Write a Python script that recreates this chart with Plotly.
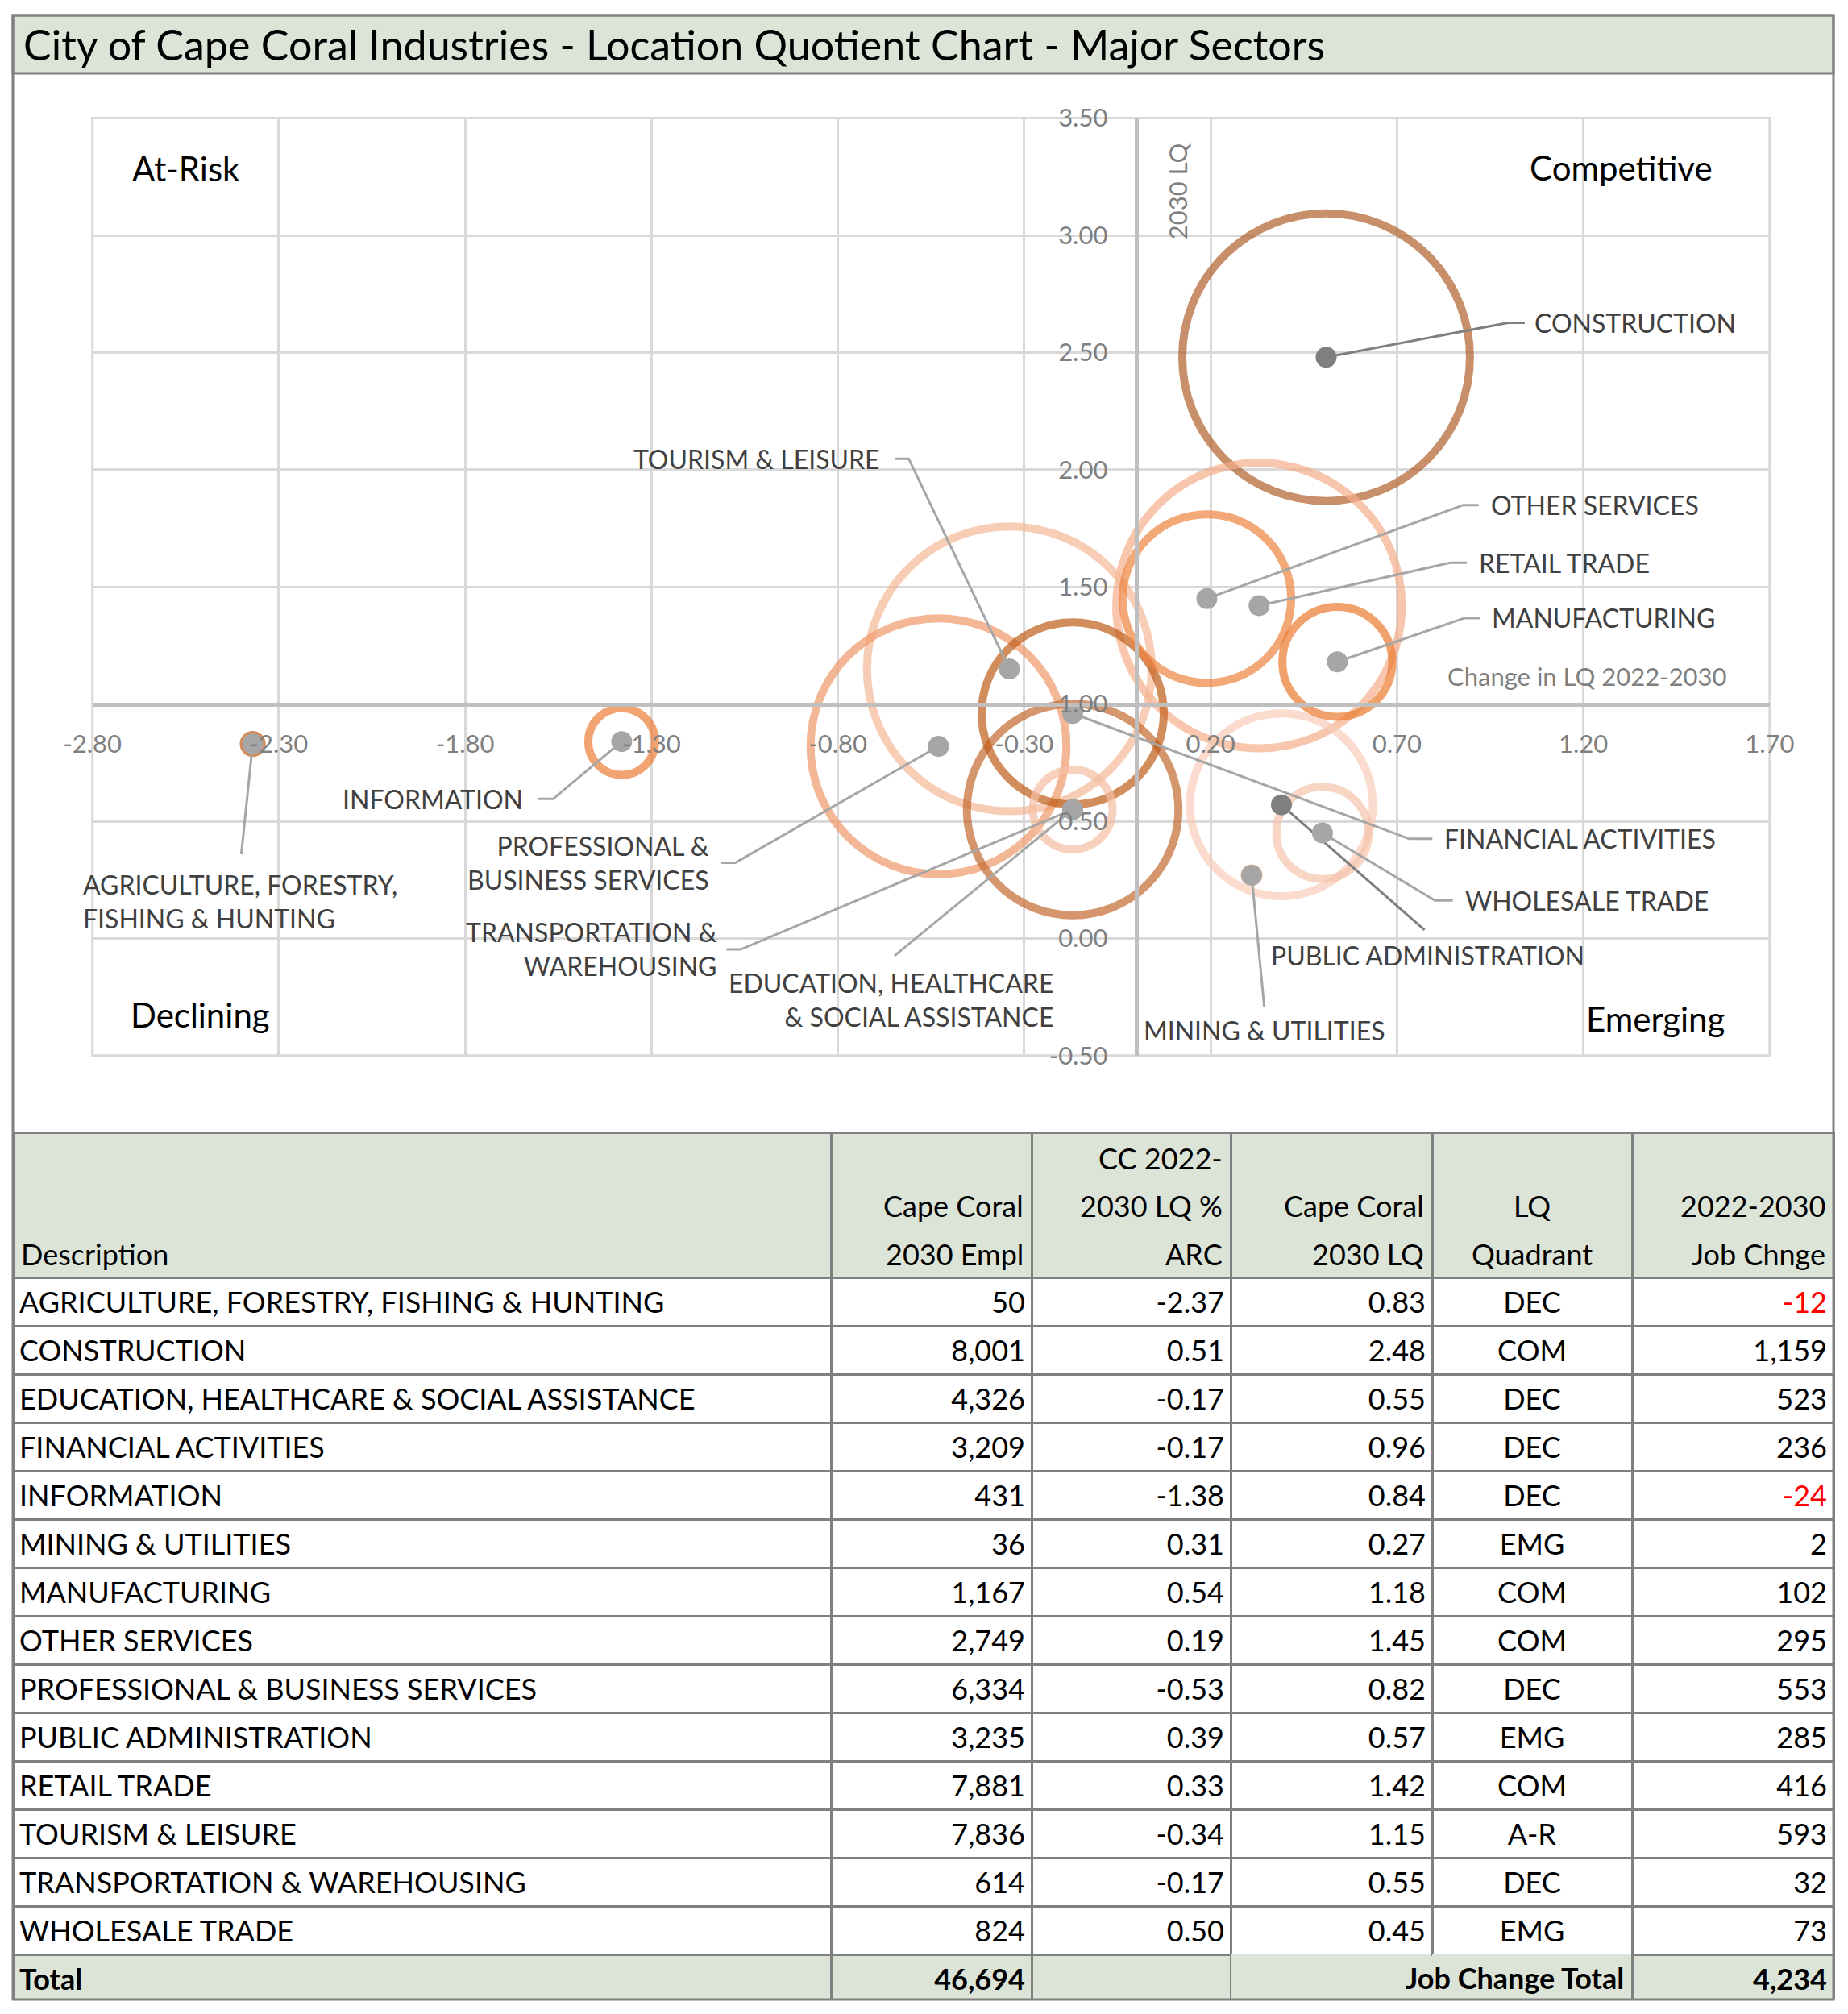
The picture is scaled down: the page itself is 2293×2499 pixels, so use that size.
import plotly.graph_objects as go
import numpy as np

W, H = 2293, 2499
BODY = 8                      # default page margin of the html body
FW, FH = W - BODY, H - BODY   # figure size so it fits the window

# ---------------- data ----------------
sectors = [
    "AGRICULTURE, FORESTRY, FISHING & HUNTING",
    "CONSTRUCTION",
    "EDUCATION, HEALTHCARE & SOCIAL ASSISTANCE",
    "FINANCIAL ACTIVITIES",
    "INFORMATION",
    "MINING & UTILITIES",
    "MANUFACTURING",
    "OTHER SERVICES",
    "PROFESSIONAL & BUSINESS SERVICES",
    "PUBLIC ADMINISTRATION",
    "RETAIL TRADE",
    "TOURISM & LEISURE",
    "TRANSPORTATION & WAREHOUSING",
    "WHOLESALE TRADE",
]
empl_2030 = [50, 8001, 4326, 3209, 431, 36, 1167, 2749, 6334, 3235, 7881, 7836, 614, 824]
lq_change = [-2.37, 0.51, -0.17, -0.17, -1.38, 0.31, 0.54, 0.19, -0.53, 0.39, 0.33, -0.34, -0.17, 0.50]
lq_2030 = [0.83, 2.48, 0.55, 0.96, 0.84, 0.27, 1.18, 1.45, 0.82, 0.57, 1.42, 1.15, 0.55, 0.45]
quadrant = ["DEC", "COM", "DEC", "DEC", "DEC", "EMG", "COM", "COM", "DEC", "EMG", "COM", "A-R", "DEC", "EMG"]
job_change = [-12, 1159, 523, 236, -24, 2, 102, 295, 553, 285, 416, 593, 32, 73]
total_empl = 46694
total_job_change = 4234

table_header = [
    ["", "", "Description"],
    ["", "Cape Coral", "2030 Empl"],
    ["CC 2022-", "2030 LQ %", "ARC"],
    ["", "Cape Coral", "2030 LQ"],
    ["", "LQ", "Quadrant"],
    ["", "2022-2030", "Job Chnge"],
]

x_range = [-2.8, 1.7]
y_range = [-0.5, 3.5]
tick_step = 0.5
lq_baseline = 1.0

# ---------------- styles ----------------
FONT = "Lato"
ring_colors = ["#c55a11", "#b0622d", "#c46b30", "#c05d19", "#ec7e36", "#f4b183", "#ec7b2f",
               "#ee8440", "#f0996b", "#f8cdb8", "#f4ae89", "#f5b898", "#f6bea3", "#f6c4ac"]
ring_widths = [4, 10, 10, 10, 10, 3, 10, 10, 10, 10, 10, 10, 10, 10]
dot_colors = ["#a6a6a6", "#7f7f7f", "#a6a6a6", "#a6a6a6", "#a6a6a6", "#a6a6a6", "#a6a6a6",
              "#a6a6a6", "#a6a6a6", "#7f7f7f", "#a6a6a6", "#a6a6a6", "#a6a6a6", "#a6a6a6"]
SIZEREF = 0.1256

# label placement (data coordinates): text pos, anchor, leader path after the point, pixel shift
label_layout = [
    dict(text="AGRICULTURE, FORESTRY,<br>FISHING & HUNTING", x=-2.8, y=0.159, anchor="left",
         path=[(-2.4006, 0.359)], xshift=-14),
    dict(text="CONSTRUCTION", x=1.064, y=2.627, anchor="left", path=[(0.998, 2.627), (1.043, 2.627)]),
    dict(text="EDUCATION, HEALTHCARE<br>& SOCIAL ASSISTANCE", x=-0.217, y=-0.26, anchor="right", path=[(-0.648, -0.074)]),
    dict(text="FINANCIAL ACTIVITIES", x=0.823, y=0.425, anchor="left", path=[(0.733, 0.425), (0.795, 0.425)]),
    dict(text="INFORMATION", x=-1.64, y=0.595, anchor="right", path=[(-1.564, 0.595), (-1.605, 0.595)]),
    dict(text="MINING & UTILITIES", x=0.017, y=-0.392, anchor="left", path=[(0.344, -0.293)]),
    dict(text="MANUFACTURING", x=0.95, y=1.367, anchor="left", path=[(0.881, 1.367), (0.922, 1.367)]),
    dict(text="OTHER SERVICES", x=0.947, y=1.849, anchor="left", path=[(0.878, 1.849), (0.919, 1.849)]),
    dict(text="PROFESSIONAL &<br>BUSINESS SERVICES", x=-1.14, y=0.323, anchor="right", path=[(-1.075, 0.323), (-1.113, 0.323)]),
    dict(text="PUBLIC ADMINISTRATION", x=0.358, y=-0.074, anchor="left", path=[(0.774, 0.036)]),
    dict(text="RETAIL TRADE", x=0.916, y=1.603, anchor="left", path=[(0.843, 1.603), (0.888, 1.603)]),
    dict(text="TOURISM & LEISURE", x=-0.682, y=2.047, anchor="right", path=[(-0.61, 2.047), (-0.648, 2.047)]),
    dict(text="TRANSPORTATION &<br>WAREHOUSING", x=-1.12, y=-0.044, anchor="right", path=[(-1.061, -0.047), (-1.099, -0.047)]),
    dict(text="WHOLESALE TRADE", x=0.878, y=0.162, anchor="left", path=[(0.802, 0.162), (0.85, 0.162)]),
]

quadrant_labels = [("At-Risk", -2.549, 3.285), ("Competitive", 1.301, 3.29),
                   ("Declining", -2.511, -0.326), ("Emerging", 1.394, -0.342)]

# ---------------- layout geometry (window pixels -> paper) ----------------
def PX(px):
    return (px - BODY) / FW

def PY(py):
    return 1 - (py - BODY) / FH

xd = [PX(114.7), PX(2195.8)]
yd = [PY(1309.8), PY(146.6)]
x_axis_pos = yd[0] + (lq_baseline - y_range[0]) / (y_range[1] - y_range[0]) * (yd[1] - yd[0])
y_axis_pos = xd[0] + (0 - x_range[0]) / (x_range[1] - x_range[0]) * (xd[1] - xd[0])

x_tickvals = np.arange(x_range[0], x_range[1] + 1e-9, tick_step)
y_tickvals = np.arange(y_range[0], y_range[1] + 1e-9, tick_step)
x_ticktext = [f"{v:.2f}" for v in x_tickvals]
y_ticktext = [f"{v:.2f}".replace("-0.00", "0.00") for v in y_tickvals]

fig = go.Figure()

# bubbles (largest drawn first)
order = np.argsort(np.array(empl_2030))[::-1]
fig.add_trace(go.Scatter(
    x=np.array(lq_change)[order], y=np.array(lq_2030)[order], mode="markers",
    marker=dict(size=np.array(empl_2030)[order], sizemode="area", sizeref=SIZEREF,
                color="rgba(0,0,0,0)",
                line=dict(width=np.array(ring_widths)[order], color=np.array(ring_colors)[order])),
    hoverinfo="skip", showlegend=False, cliponaxis=False))

# leader lines
for col in ["#a6a6a6", "#7f7f7f"]:
    lx, ly = [], []
    for i, lab in enumerate(label_layout):
        if dot_colors[i] != col:
            continue
        lx.append(lq_change[i]); ly.append(lq_2030[i])
        for (px_, py_) in lab["path"]:
            lx.append(px_); ly.append(py_)
        lx.append(None); ly.append(None)
    fig.add_trace(go.Scatter(x=lx, y=ly, mode="lines", line=dict(color=col, width=3),
                             hoverinfo="skip", showlegend=False, cliponaxis=False))

# dots
fig.add_trace(go.Scatter(x=lq_change, y=lq_2030, mode="markers",
                         marker=dict(size=26, color=dot_colors, line=dict(width=0)),
                         hoverinfo="skip", showlegend=False, cliponaxis=False))

annotations = []
for lab in label_layout:
    annotations.append(dict(x=lab["x"], y=lab["y"], xref="x", yref="y", text=lab["text"],
                            xanchor=lab["anchor"], yanchor="middle", align=lab["anchor"],
                            xshift=lab.get("xshift", 0),
                            showarrow=False, font=dict(family=FONT, size=32, color="#404040")))
for t, qx, qy in quadrant_labels:
    annotations.append(dict(x=qx, y=qy, xref="x", yref="y", text=t, xanchor="center", yanchor="middle",
                            showarrow=False, font=dict(family=FONT, size=42, color="#000000")))
# axis titles
annotations.append(dict(x=0.11, y=3.19, xref="x", yref="y", text="2030 LQ", textangle=-90,
                        showarrow=False, xanchor="center", yanchor="middle",
                        font=dict(family=FONT, size=31, color="#7f7f7f")))
annotations.append(dict(x=1.59, y=1.12, xref="x", yref="y", text="Change in LQ 2022-2030",
                        showarrow=False, xanchor="right", yanchor="middle",
                        font=dict(family=FONT, size=31, color="#7f7f7f")))
# main title
annotations.append(dict(x=PX(27), y=PY(55), xref="paper", yref="paper",
                        text="City of Cape Coral Industries - Location Quotient Chart - Major Sectors",
                        showarrow=False, xanchor="left", yanchor="middle",
                        font=dict(family=FONT, size=52, color="#000000")))

# ---------------- table ----------------
col_widths = [1015, 249, 247, 250, 248, 250]
col_align = ["left", "right", "right", "right", "center", "right"]
tbl_x0, tbl_x1 = 16, 2275
tbl_top, tbl_bot = 1405, 2481
header_h = 180
row_h = 59.7
TFS = 36
CELL_PAD = 8
header_line_offsets = [32, 91, 150.5]


def sp(s):
    return f"<span>{s}</span>"


n = len(sectors)
col_desc = [sp(s) for s in sectors] + ["<b>Total</b>"]
col_empl = [sp(f"{v:,}") for v in empl_2030] + [f"<b>{total_empl:,}</b>"]
col_arc = [sp(f"{v:.2f}") for v in lq_change] + [sp("")]
col_lq = [sp(f"{v:.2f}") for v in lq_2030] + [sp("")]
col_quad = [sp(q) for q in quadrant] + [sp("")]
col_job = [sp(f"{v:,}") for v in job_change] + [f"<b>{total_job_change:,}</b>"]

SAGE = "#dce4d8"
GRID = "#808080"
NONE = "rgba(0,0,0,0)"
fill_col = ["#ffffff"] * n + [SAGE]
job_font = ["#ff0000" if v < 0 else "#000000" for v in job_change] + ["#000000"]
line_cols = [[GRID] * (n + 1)] * 3 + [[GRID] * n + [NONE]] * 2 + [[GRID] * (n + 1)]

fig.add_trace(go.Table(
    domain=dict(x=[PX(tbl_x0), PX(tbl_x1)], y=[PY(tbl_bot), PY(tbl_top)]),
    columnwidth=col_widths,
    header=dict(
        values=[""] * len(col_widths),
        fill=dict(color=SAGE), line=dict(color=GRID, width=3),
        font=dict(family=FONT, size=TFS, color="#000000"), height=header_h),
    cells=dict(
        values=[col_desc, col_empl, col_arc, col_lq, col_quad, col_job],
        align=col_align,
        fill=dict(color=[fill_col] * 6), line=dict(color=line_cols, width=3),
        font=dict(family=FONT, size=TFS, color=[["#000000"] * (n + 1)] * 5 + [job_font]),
        height=row_h),
))

# header text, each line aligned like the column
col_edges = np.cumsum([tbl_x0] + col_widths)
for c, lines in enumerate(table_header):
    al = col_align[c]
    if al == "left":
        hx, xa = col_edges[c] + CELL_PAD, "left"
    elif al == "right":
        hx, xa = col_edges[c + 1] - CELL_PAD, "right"
    else:
        hx, xa = (col_edges[c] + col_edges[c + 1]) / 2, "center"
    for k, line in enumerate(lines):
        if not line:
            continue
        annotations.append(dict(x=PX(hx), y=PY(tbl_top + header_line_offsets[k]), xref="paper", yref="paper",
                                text=line, showarrow=False, xanchor=xa, yanchor="middle",
                                font=dict(family=FONT, size=TFS, color="#000000")))

# "Job Change Total" spans two columns
annotations.append(dict(x=PX(col_edges[5] - CELL_PAD), y=PY(tbl_bot - row_h / 2 + 3), xref="paper", yref="paper",
                        text="<b>Job Change Total</b>", showarrow=False, xanchor="right", yanchor="middle",
                        font=dict(family=FONT, size=TFS, color="#000000")))

shapes = [
    dict(type="rect", xref="x domain", yref="y domain", x0=0, x1=1, y0=0, y1=1,
         line=dict(color="#d9d9d9", width=3), layer="below"),
    dict(type="rect", xref="paper", yref="paper", x0=PX(16), x1=PX(2275), y0=PY(91), y1=PY(19),
         fillcolor=SAGE, line=dict(color=GRID, width=3), layer="below"),
    dict(type="rect", xref="paper", yref="paper", x0=PX(16), x1=PX(2275), y0=PY(2481), y1=PY(19),
         line=dict(color=GRID, width=3), layer="above"),
]

fig.update_layout(
    width=FW, height=FH, autosize=False,
    margin=dict(l=0, r=0, t=0, b=0, pad=0),
    paper_bgcolor="white", plot_bgcolor="white",
    showlegend=False,
    xaxis=dict(domain=xd, range=x_range, tickmode="array", tickvals=x_tickvals, ticktext=x_ticktext,
               showgrid=True, gridcolor="#d9d9d9", gridwidth=3, zeroline=False,
               showline=True, linecolor="#bfbfbf", linewidth=5, anchor="free", position=x_axis_pos,
               ticks="", ticklabelstandoff=20, automargin=False, fixedrange=True,
               tickfont=dict(family=FONT, size=31, color="#7f7f7f")),
    yaxis=dict(domain=yd, range=y_range, tickmode="array", tickvals=y_tickvals, ticktext=y_ticktext,
               showgrid=True, gridcolor="#d9d9d9", gridwidth=3, zeroline=False,
               showline=True, linecolor="#bfbfbf", linewidth=5, anchor="free", position=y_axis_pos,
               ticks="", ticklabelstandoff=27, automargin=False, fixedrange=True,
               tickfont=dict(family=FONT, size=31, color="#7f7f7f")),
    annotations=annotations,
    shapes=shapes,
)

fig.write_html("out.html")
